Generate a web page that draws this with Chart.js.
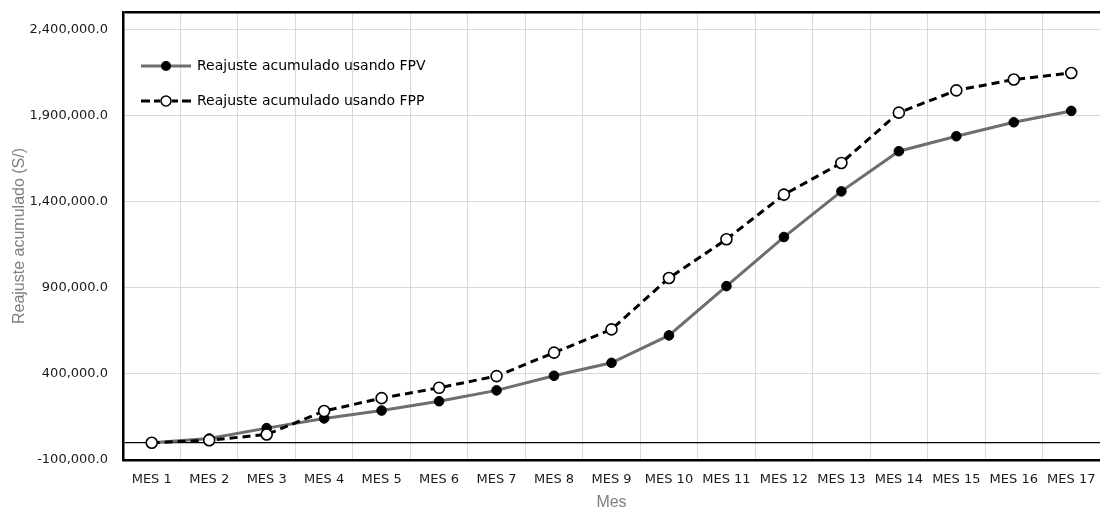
<!DOCTYPE html>
<html>
<head>
<meta charset="utf-8">
<script src="https://cdn.jsdelivr.net/npm/chart.js@4"></script>
<style>
html,body{margin:0;padding:0;background:#fff;}
#wrap{width:1100px;height:511px;position:relative;}
</style>
</head>
<body>
<div id="wrap"><canvas id="c" width="1100" height="511"></canvas></div>
<script>
const categories = ['MES 1','MES 2','MES 3','MES 4','MES 5','MES 6','MES 7','MES 8','MES 9','MES 10','MES 11','MES 12','MES 13','MES 14','MES 15','MES 16','MES 17'];
const fpvValues = [0, 25000, 85000, 141000, 187000, 241000, 304000, 389000, 464000, 623000, 909000, 1194000, 1459000, 1692000, 1779000, 1860000, 1926000];
const fppValues = [0, 15000, 48000, 184000, 259000, 319000, 387000, 523000, 658000, 956000, 1181000, 1440000, 1624000, 1916000, 2045000, 2108000, 2146000];
const seriesLabels = ['Reajuste acumulado usando FPV', 'Reajuste acumulado usando FPP'];
const yTickValues = [-100000, 0, 400000, 900000, 1400000, 1900000, 2400000, 2500000];
const yLabelledTicks = [-100000, 400000, 900000, 1400000, 1900000, 2400000];
const yMin = -100000;
const yMax = 2500000;

function makeIcon(kind) {
  const cv = document.createElement('canvas');
  cv.width = 50; cv.height = 14;
  const g = cv.getContext('2d');
  g.lineWidth = 3;
  if (kind === 'solid') {
    g.strokeStyle = '#6e6e6e';
    g.beginPath(); g.moveTo(0, 7); g.lineTo(50, 7); g.stroke();
    g.fillStyle = '#000';
    g.beginPath(); g.arc(25, 7, 5, 0, Math.PI * 2); g.fill();
  } else {
    g.strokeStyle = '#000';
    [[0, 9], [13, 19], [31, 37], [41, 50]].forEach(s => {
      g.beginPath(); g.moveTo(s[0], 7); g.lineTo(s[1], 7); g.stroke();
    });
    g.fillStyle = '#fff'; g.lineWidth = 1.6;
    g.beginPath(); g.arc(25, 7, 5, 0, Math.PI * 2); g.fill(); g.stroke();
  }
  return cv;
}
const icons = [makeIcon('solid'), makeIcon('dashed')];

const tickFont = {family: 'DejaVu Sans', size: 13};
const rightOverhang = -2.6;

const legendShift = {
  id: 'legendShift',
  afterLayout(chart) {
    if (chart.legend) { chart.legend.top += 38; chart.legend.bottom += 38; chart.legend.left -= 2; chart.legend.right -= 2; }
  }
};

new Chart(document.getElementById('c'), {
  type: 'line',
  data: {
    labels: categories,
    datasets: [
      {
        label: seriesLabels[0],
        data: fpvValues,
        borderColor: '#6e6e6e',
        borderWidth: 3,
        pointBackgroundColor: '#000',
        pointBorderColor: '#000',
        pointBorderWidth: 1,
        pointRadius: 4.8,
        tension: 0,
        order: 1
      },
      {
        label: seriesLabels[1],
        data: fppValues,
        borderColor: '#000',
        borderWidth: 3,
        borderDash: [8, 5],
        pointBackgroundColor: '#fff',
        pointBorderColor: '#000',
        pointBorderWidth: 1.6,
        pointRadius: 5.5,
        tension: 0,
        order: 0
      }
    ]
  },
  plugins: [legendShift],
  options: {
    responsive: false,
    animation: false,
    layout: {autoPadding: false, padding: {top: 12, right: rightOverhang, bottom: -1, left: 0}},
    plugins: {
      tooltip: {enabled: false},
      legend: {
        position: 'chartArea',
        align: 'start',
        labels: {
          usePointStyle: true,
          pointStyleWidth: 48,
          padding: 21,
          color: '#000',
          font: {family: 'DejaVu Sans', size: 14},
          sort: (a, b) => a.datasetIndex - b.datasetIndex,
          generateLabels: (chart) => {
            const items = Chart.defaults.plugins.legend.labels.generateLabels(chart);
            items.forEach(it => { it.pointStyle = icons[it.datasetIndex]; });
            return items;
          }
        }
      }
    },
    scales: {
      x: {
        offset: true,
        grid: {offset: true, color: '#d9d9d9', lineWidth: 1, drawTicks: false},
        border: {display: true, color: '#000', width: 2.5},
        ticks: {color: '#1a1a1a', font: tickFont, padding: 12, maxRotation: 0, autoSkip: false},
        title: {display: true, text: 'Mes', color: '#7f7f7f', font: {family: 'Liberation Sans', size: 16}, padding: {top: 0, bottom: 0}},
        afterFit: (s) => { s.height = 52; s.paddingLeft = 0; s.paddingRight = rightOverhang; }
      },
      y: {
        min: yMin,
        max: yMax,
        afterBuildTicks: (s) => { s.ticks = yTickValues.map(v => ({value: v})); },
        grid: {
          drawTicks: false,
          color: (c) => (c.tick && (c.tick.value === 0 || c.tick.value === yMax)) ? '#000' : '#d9d9d9',
          lineWidth: (c) => c.tick ? (c.tick.value === yMax ? 2.5 : (c.tick.value === 0 ? 1.2 : 1)) : 1
        },
        border: {display: true, color: '#000', width: 2.5},
        ticks: {
          color: '#1a1a1a',
          font: tickFont,
          padding: 15,
          callback: (v) => yLabelledTicks.includes(v) ? v.toLocaleString('en-US', {minimumFractionDigits: 1, maximumFractionDigits: 1}) : ''
        },
        title: {display: true, text: 'Reajuste acumulado (S/)', color: '#7f7f7f', font: {family: 'Liberation Sans', size: 16}, padding: {top: 10, bottom: 0}},
        afterFit: (s) => { s.width = 123; s.paddingTop = 0; s.paddingBottom = 0; s.paddingRight = rightOverhang; }
      }
    }
  }
});
</script>
</body>
</html>
